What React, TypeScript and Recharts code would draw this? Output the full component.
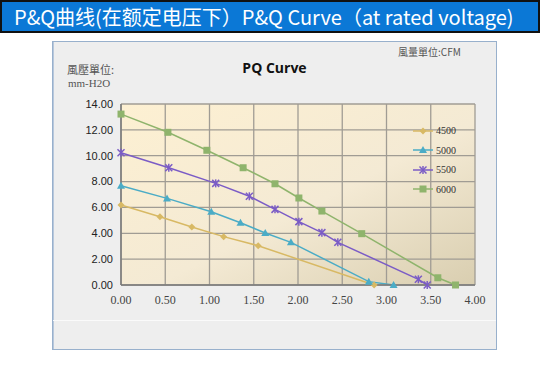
import React from 'react';
import { LineChart, Line, XAxis, YAxis, CartesianGrid, Legend } from 'recharts';

// flow (CFM) and pressure (mm-H2O) read from the curve, one pair per speed
const q4500 = [0, 0.44, 0.8, 1.16, 1.55, 2.86];
const p4500 = [6.19, 5.28, 4.49, 3.74, 3.04, 0];

const q5000 = [0, 0.52, 1.02, 1.35, 1.63, 1.92, 2.8, 3.08];
const p5000 = [7.68, 6.7, 5.67, 4.82, 4.02, 3.3, 0.26, 0];

const q5500 = [0, 0.54, 1.07, 1.45, 1.74, 2.01, 2.27, 2.45, 3.36, 3.46];
const p5500 = [10.23, 9.07, 7.86, 6.86, 5.85, 4.9, 4.05, 3.3, 0.44, 0];

const q6000 = [0, 0.53, 0.97, 1.38, 1.74, 2.01, 2.27, 2.72, 3.58, 3.78];
const p6000 = [13.22, 11.81, 10.42, 9.07, 7.83, 6.73, 5.72, 3.97, 0.56, 0];

const speeds = ['4500', '5000', '5500', '6000'];
const xTicks = [0, 0.5, 1, 1.5, 2, 2.5, 3, 3.5, 4];
const yTicks = [0, 2, 4, 6, 8, 10, 12, 14];

const toPoints = (q: number[], p: number[]) => q.map((v, i) => ({ q: v, p: p[i] }));

const series = [
  { name: speeds[0], data: toPoints(q4500, p4500), color: '#d8b964', shape: 'diamond' },
  { name: speeds[1], data: toPoints(q5000, p5000), color: '#4bacc6', shape: 'triangle' },
  { name: speeds[2], data: toPoints(q5500, p5500), color: '#7b5cc6', shape: 'star' },
  { name: speeds[3], data: toPoints(q6000, p6000), color: '#8fb46c', shape: 'square' },
];

const Marker = ({ cx, cy, color, shape }: any) => {
  if (cx == null || cy == null) return null;
  if (shape === 'diamond') {
    return <path d={`M${cx},${cy - 3.5}L${cx + 3.5},${cy}L${cx},${cy + 3.5}L${cx - 3.5},${cy}Z`} fill={color} />;
  }
  if (shape === 'triangle') {
    return <path d={`M${cx},${cy - 4}L${cx + 4},${cy + 3}L${cx - 4},${cy + 3}Z`} fill={color} />;
  }
  if (shape === 'square') {
    return <rect x={cx - 3.5} y={cy - 3.5} width={7} height={7} fill={color} />;
  }
  return (
    <g stroke={color} strokeWidth={1.5}>
      <line x1={cx - 3.5} y1={cy - 3.5} x2={cx + 3.5} y2={cy + 3.5} />
      <line x1={cx - 3.5} y1={cy + 3.5} x2={cx + 3.5} y2={cy - 3.5} />
      <line x1={cx} y1={cy - 4} x2={cx} y2={cy + 4} />
    </g>
  );
};

const CustomLegend = () => (
  <div style={{ display: 'flex', flexDirection: 'column' }}>
    {series.map((s) => (
      <div key={s.name} style={{ display: 'flex', alignItems: 'center', height: 19.5 }}>
        <svg width={22} height={10}>
          <line x1={1} y1={5} x2={21} y2={5} stroke={s.color} strokeWidth={1.5} />
          <Marker cx={11} cy={5} color={s.color} shape={s.shape} />
        </svg>
        <span style={{ fontFamily: '"Liberation Serif", serif', fontSize: 10, color: '#333', marginLeft: 2 }}>
          {s.name}
        </span>
      </div>
    ))}
  </div>
);

export default function App() {
  return (
    <div style={{ position: 'fixed', left: 0, top: 0, width: 543, height: 369, background: '#fff', overflow: 'hidden' }}>
      <div
        style={{
          position: 'absolute', left: 0, top: 0, width: 524, height: 29,
          background: '#0b78d6', border: '2px solid #111',
          color: '#fff', fontFamily: '"Noto Sans CJK SC", sans-serif', fontSize: 20,
          lineHeight: '29px', paddingLeft: 12, whiteSpace: 'nowrap', overflow: 'hidden',
        }}
      >
        P&Q曲线(在额定电压下）P&Q Curve（at rated voltage)
      </div>

      <div
        style={{
          position: 'absolute', left: 52, top: 41, width: 443, height: 307,
          background: '#eeeeee', border: '1px solid #98b0cc', boxShadow: 'inset 1px 0 0 #b8c8dc',
        }}
      >
        <div style={{ position: 'absolute', left: 0, right: 0, top: 278, height: 1, background: '#fafafa' }} />
        <div style={{ position: 'absolute', left: 0, width: 443, top: 16, textAlign: 'center', fontFamily: '"Open Sans", sans-serif', fontWeight: 700, fontSize: 14, color: '#111' }}>
          PQ Curve
        </div>
        <div style={{ position: 'absolute', left: 14, top: 20, fontFamily: '"Noto Sans CJK TC", sans-serif', fontSize: 11, color: '#555', lineHeight: '14px' }}>
          風壓單位:
        </div>
        <div style={{ position: 'absolute', left: 15, top: 35, fontFamily: '"Liberation Serif", serif', fontSize: 11, color: '#555' }}>
          mm-H2O
        </div>
        <div style={{ position: 'absolute', left: 345, top: 2, fontFamily: '"Noto Sans CJK TC", sans-serif', fontSize: 10, color: '#555' }}>
          風量單位:CFM
        </div>

        <div style={{ position: 'absolute', left: 0, top: 0 }}>
          <LineChart width={443} height={307} margin={{ top: 62, right: 21, bottom: 34, left: 0 }}>
            <defs>
              <linearGradient id="plotBg" x1="0" y1="0" x2="1" y2="1">
                <stop offset="0%" stopColor="#fdf0d2" />
                <stop offset="55%" stopColor="#f4ead4" />
                <stop offset="100%" stopColor="#d9ceb0" />
              </linearGradient>
            </defs>
            <CartesianGrid stroke="#a09c94" strokeWidth={1.3} fill="url(#plotBg)" fillOpacity={1} />
            <XAxis
              type="number"
              dataKey="q"
              domain={[0, 4]}
              ticks={xTicks}
              tickFormatter={(v: number) => v.toFixed(2)}
              allowDuplicatedCategory={false}
              height={30}
              axisLine={{ stroke: '#7a7a7a', strokeWidth: 1.5 }}
              tickLine={false}
              tickMargin={4}
              tick={{ fontFamily: '"Liberation Serif", serif', fontSize: 12, fill: '#444' }}
            />
            <YAxis
              type="number"
              dataKey="p"
              domain={[0, 14]}
              ticks={yTicks}
              tickFormatter={(v: number) => v.toFixed(2)}
              width={68}
              axisLine={{ stroke: '#7a7a7a', strokeWidth: 1.5 }}
              tickLine={false}
              tick={{ fontFamily: '"Liberation Sans", sans-serif', fontSize: 11, fill: '#222' }}
            />
            <Legend
              content={<CustomLegend />}
              layout="vertical"
              verticalAlign="middle"
              align="center"
              wrapperStyle={{ position: 'absolute', left: 359, top: 79, width: 70 }}
            />
            {series.map((s) => (
              <Line
                key={s.name}
                data={s.data}
                dataKey="p"
                name={s.name}
                type="linear"
                stroke={s.color}
                strokeWidth={1.5}
                dot={(props: any) => <Marker key={`${s.name}-${props.index}`} cx={props.cx} cy={props.cy} color={s.color} shape={s.shape} />}
                activeDot={false}
                isAnimationActive={false}
              />
            ))}
          </LineChart>
        </div>
      </div>
    </div>
  );
}
